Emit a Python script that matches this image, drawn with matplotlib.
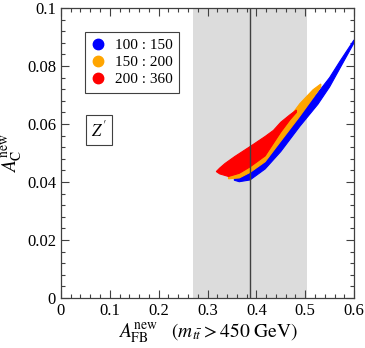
###############################################################
# matplotlib
###############################################################
import matplotlib
matplotlib.use('Agg')
import matplotlib.pyplot as plt
from matplotlib.ticker import MultipleLocator
plt.rcParams['font.family'] = ['Liberation Serif', 'DejaVu Serif']
plt.rcParams['mathtext.fontset'] = 'stix'

###############################################################
# data (band outlines, A_FB vs A_C)
###############################################################
# 100 : 150  -> lower edge then upper edge (reversed)
blue_x = [0.355, 0.365, 0.387, 0.418, 0.45, 0.489, 0.526, 0.55, 0.571, 0.60,
          0.60, 0.571, 0.55, 0.526, 0.489, 0.45, 0.418, 0.387, 0.365, 0.355]
blue_y = [0.0406, 0.0401, 0.0407, 0.0445, 0.0505, 0.0592, 0.0668, 0.0728, 0.0792, 0.0880,
          0.0890, 0.0816, 0.0760, 0.0708, 0.0630, 0.0545, 0.0473, 0.0436, 0.0417, 0.0412]

# 150 : 200
orange_x = [0.343, 0.365, 0.387, 0.418, 0.45, 0.489, 0.516, 0.532,
            0.532, 0.516, 0.489, 0.469, 0.45, 0.418, 0.387, 0.365, 0.343]
orange_y = [0.0411, 0.0414, 0.0433, 0.0470, 0.0541, 0.0627, 0.0690, 0.0728,
            0.0738, 0.0718, 0.0670, 0.0625, 0.0575, 0.0493, 0.0455, 0.0432, 0.0420]

# 200 : 360
red_x = [0.325, 0.343, 0.365, 0.387, 0.418, 0.45, 0.469, 0.482,
         0.482, 0.469, 0.45, 0.435, 0.418, 0.387, 0.356, 0.336, 0.325, 0.318]
red_y = [0.0428, 0.0419, 0.0430, 0.0452, 0.0490, 0.0572, 0.0615, 0.0640,
         0.0648, 0.0632, 0.0606, 0.0578, 0.0557, 0.0522, 0.0488, 0.0464, 0.0448, 0.0436]

labels = ['100 : 150', '150 : 200', '200 : 360']
colors = ['#0000ff', '#ffa500', '#ff0000']

# measured A_FB band and central value
afb_low = 0.271
afb_high = 0.503
afb_central = 0.387

xticks = [0, 0.1, 0.2, 0.3, 0.4, 0.5, 0.6]
xticklabels = ['0', '0.1', '0.2', '0.3', '0.4', '0.5', '0.6']
yticks = [0, 0.02, 0.04, 0.06, 0.08, 0.1]
yticklabels = ['0', '0.02', '0.04', '0.06', '0.08', '0.1']

##################################################
# the figure
##################################################
fig, ax = plt.subplots(1, 1, figsize=(3.65, 3.48), dpi=100)
fig.subplots_adjust(left=0.167, right=0.970, bottom=0.1437, top=0.977)

ax.axvspan(afb_low, afb_high, color='#dcdcdc', zorder=0, linewidth=0)
ax.axvline(afb_central, color='#404040', linewidth=1.0, zorder=3)

bands = [(blue_x, blue_y), (orange_x, orange_y), (red_x, red_y)]
handles = []
for (bx, by), c, lab in zip(bands, colors, labels):
    ax.fill(bx, by, color=c, linewidth=0.8, edgecolor=c, zorder=2)
    h, = ax.plot([], [], 'o', color=c, markersize=7.5, label=lab)
    handles.append(h)

ax.set_xlim(0, 0.6)
ax.set_ylim(0, 0.1)
ax.set_xticks(xticks)
ax.set_xticklabels(xticklabels)
ax.set_yticks(yticks)
ax.set_yticklabels(yticklabels)
ax.xaxis.set_minor_locator(MultipleLocator(0.02))
ax.yaxis.set_minor_locator(MultipleLocator(0.004))
ax.tick_params(which='both', direction='in', top=True, right=True, labelsize=12, colors='black')
ax.tick_params(which='major', length=6, width=0.8, color='#404040')
ax.tick_params(which='minor', length=3, width=0.8, color='#404040')
for s in ax.spines.values():
    s.set_linewidth(0.9)
    s.set_edgecolor('#404040')

leg = ax.legend(handles=handles, loc='upper left', bbox_to_anchor=(0.082, 0.918),
                fancybox=False, framealpha=1, edgecolor='#404040', fontsize=11,
                handlelength=0.8, handletextpad=0.7, borderpad=0.45, labelspacing=0.2,
                borderaxespad=0)
leg.get_frame().set_linewidth(0.8)

ax.text(0.0778, 0.0579, r"$Z'$", fontsize=12, ha='center', va='center',
        bbox=dict(boxstyle='square,pad=0.3', facecolor='white', edgecolor='#404040', linewidth=0.8))

ax.set_xlabel(r'$A_{\rm FB}^{\rm new}$   $(m_{t\bar{t}} > 450\ {\rm GeV})$', fontsize=14, labelpad=2)
ax.set_ylabel(r'$A_{\rm C}^{\rm new}$', fontsize=14, labelpad=2)

##################################################
# saving
##################################################
plt.savefig('out.png', dpi=100)
